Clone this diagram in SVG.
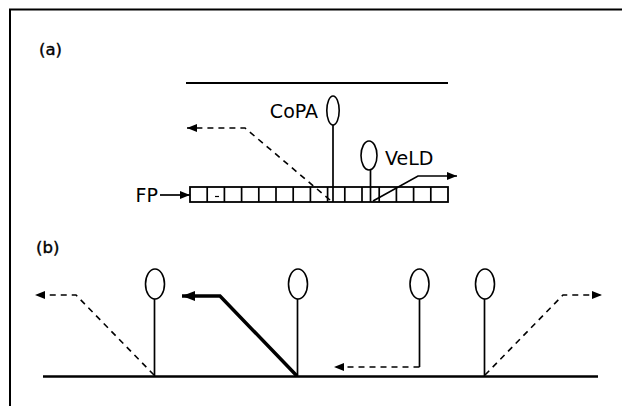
<svg xmlns="http://www.w3.org/2000/svg" width="622" height="406" viewBox="0 0 622 406">
<style>
.ln{fill:none;stroke:#000;stroke-width:1.7}
.dash{fill:none;stroke:#000;stroke-width:1.6;stroke-dasharray:6 5}
.thick{fill:none;stroke:#000;stroke-width:3.5;stroke-linejoin:miter}
.ell{fill:#fff;stroke:#000;stroke-width:1.6}
.box{fill:#fff;stroke:#000;stroke-width:1.8}
.lbl{font-family:"DejaVu Sans","Liberation Sans",sans-serif;font-size:19px;fill:#000}
.pl{font-family:"DejaVu Sans","Liberation Sans",sans-serif;font-size:16.5px;fill:#000;stroke:#000;stroke-width:0.4}
</style>
<defs>
<marker id="ah" markerWidth="12" markerHeight="10" refX="10" refY="5" orient="auto" markerUnits="userSpaceOnUse"><path d="M0,1 L10,5 L0,9 Z" fill="#000"/></marker>
<marker id="ahB" markerWidth="14" markerHeight="12" refX="13" refY="6" orient="auto" markerUnits="userSpaceOnUse"><path d="M0,1 L13,6 L0,11 Z" fill="#000"/></marker>
</defs>
<rect width="622" height="406" fill="#fff"/>
<g id="frame"><path d="M10,406 V9.5 H622" fill="none" stroke="#000" stroke-width="2"/></g>
<g id="labels">
<text class="pl" x="39" y="55">(a)</text>
<text class="pl" x="36" y="253">(b)</text>
</g>
<g id="membrane-a"><line x1="186" y1="83" x2="448" y2="83" stroke="#000" stroke-width="2"/></g>
<g id="fp">
<text class="lbl" x="158" y="202" text-anchor="end">FP</text>
<rect class="box" x="190" y="187" width="258" height="15"/>
<path class="ln" d="M207.2,187V202M224.4,187V202M241.6,187V202M258.8,187V202M276,187V202M293.2,187V202M310.4,187V202M327.6,187V202M344.8,187V202M362,187V202M379.2,187V202M396.4,187V202M413.6,187V202M430.8,187V202"/>
<line x1="215" y1="196.5" x2="219" y2="196.5" stroke="#000" stroke-width="1.2"/>
</g>
<g id="copa">
<line class="ln" x1="333" y1="125" x2="333" y2="202"/>
<ellipse class="ell" cx="333" cy="110.5" rx="6.2" ry="14.5"/>
<text class="lbl" x="318" y="118" text-anchor="end">CoPA</text>
</g>
<g id="veld">
<line class="ln" x1="370.5" y1="170" x2="370.5" y2="202"/>
<ellipse class="ell" cx="369" cy="155.5" rx="8" ry="14.5"/>
<text class="lbl" x="385" y="165">VeLD</text>
</g>
<g id="baseline-b"><line x1="43" y1="376.5" x2="598" y2="376.5" stroke="#000" stroke-width="2.5"/></g>
<g id="lol1"><line class="ln" x1="154.5" y1="299" x2="154.5" y2="376"/><ellipse class="ell" cx="155" cy="284" rx="9.5" ry="15"/></g>
<g id="lol2"><line class="ln" x1="297.5" y1="299" x2="297.5" y2="376"/><ellipse class="ell" cx="298" cy="284" rx="9.5" ry="15"/></g>
<g id="lol3"><line class="ln" x1="419.5" y1="299" x2="419.5" y2="367"/><ellipse class="ell" cx="419.5" cy="284" rx="9.5" ry="15"/></g>
<g id="lol4"><line class="ln" x1="484.5" y1="299" x2="484.5" y2="376"/><ellipse class="ell" cx="485" cy="284" rx="9.5" ry="15"/></g>
<g id="connectors">
<path class="ln" d="M160,195 H190" marker-end="url(#ah)"/>
<path class="dash" d="M330,200 L245,128 H187" marker-end="url(#ah)"/>
<path class="ln" d="M373,201 L418,176 H457" marker-end="url(#ah)"/>
<path class="dash" d="M154,375 L76,295 H35" marker-end="url(#ah)"/>
<path class="thick" d="M297,376 L220,296 H182" marker-end="url(#ahB)"/>
<path class="dash" d="M419.5,367 H334" marker-end="url(#ah)"/>
<path class="dash" d="M485,375 L563,295 H602" marker-end="url(#ah)"/>
</g>
</svg>
